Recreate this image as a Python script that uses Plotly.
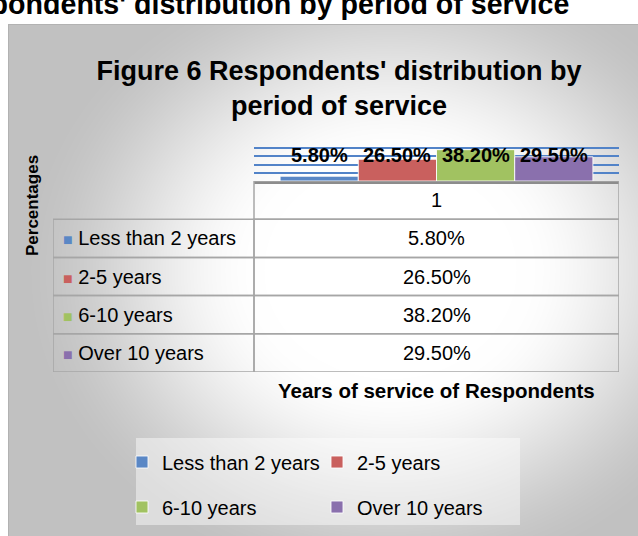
import base64
import struct
import zlib

import numpy as np
import plotly.graph_objects as go

# ---------------- data ----------------
categories = ["1"]
series_names = ["Less than 2 years", "2-5 years", "6-10 years", "Over 10 years"]
series_values = [5.8, 26.5, 38.2, 29.5]  # percent
series_colors = ["#5A87C5", "#C9605E", "#A1C261", "#8A70AD"]
title_text = "Figure 6 Respondents' distribution by<br>period of service"
doc_heading = "Figure 6 Respondents' distribution by period of service"
y_title = "Percentages"
x_title = "Years of service of Respondents"

W, H = 638, 536
FONT = "Liberation Sans, Arial, sans-serif"
GRID_GRAY = "#A6A6A6"


# ---------------- background (chart-area gradient) ----------------
def make_png(arr):
    h, w, _ = arr.shape
    raw = b"".join(b"\x00" + arr[i].tobytes() for i in range(h))

    def chunk(tag, data):
        return (struct.pack(">I", len(data)) + tag + data
                + struct.pack(">I", zlib.crc32(tag + data) & 0xFFFFFFFF))

    return (b"\x89PNG\r\n\x1a\n"
            + chunk(b"IHDR", struct.pack(">IIBBBBB", w, h, 8, 2, 0, 0, 0))
            + chunk(b"IDAT", zlib.compress(raw, 9))
            + chunk(b"IEND", b""))


yy, xx = np.mgrid[0:H, 0:W].astype(float)
cx, cy, rx, ry = 390.0, 270.0, 360.0, 310.0
t = np.sqrt(((xx - cx) / rx) ** 2 + ((yy - cy) / ry) ** 2)
s = np.clip((t - 0.35) / 0.7, 0, 1)
s = s * s * (3 - 2 * s)
gray = 255 - 62 * s
frame_x0, frame_y0 = 8, 24
gray = np.where((xx < frame_x0) | (yy < frame_y0), 255, gray)
gray = np.where(((xx == frame_x0) & (yy >= frame_y0)) | ((yy == frame_y0) & (xx >= frame_x0)), 178, gray)
img = np.repeat(gray.astype(np.uint8)[:, :, None], 3, axis=2)
bg_uri = "data:image/png;base64," + base64.b64encode(make_png(img)).decode()

# ---------------- figure ----------------
fig = go.Figure()

legend_ids = ["legend", "legend", "legend2", "legend2"]
for name, val, col, lg in zip(series_names, series_values, series_colors, legend_ids):
    fig.add_trace(go.Bar(
        x=categories, y=[val / 100.0], name=name,
        marker=dict(color=col, line=dict(color="rgba(255,255,255,0.85)", width=1)),
        legend=lg, hoverinfo="skip",
    ))

bargap = 0.143
n = len(series_values)
bw = (1 - bargap) / n
for i, val in enumerate(series_values):
    fig.add_annotation(
        x=-0.5 * (1 - bargap) + bw * (i + 0.5), y=0.317, xref="x", yref="y",
        text=f"<b>{val:.2f}%</b>", showarrow=False,
        font=dict(size=20, color="black", family=FONT), xanchor="center", yanchor="middle",
    )

# ---------------- data table (on its own axes: x2 = columns, y2 = rows) ----------------
col_w = [201, 365]          # relative column widths
x_split = col_w[0]
x_end = col_w[0] + col_w[1]
n_rows = len(series_names) + 1   # header + one row per series
shapes = []
line = dict(color=GRID_GRAY, width=1.5)
shapes.append(dict(type="rect", xref="x2", yref="y2", x0=x_split, x1=x_end, y0=0, y1=1, line=line))
for r in range(1, n_rows):
    shapes.append(dict(type="rect", xref="x2", yref="y2", x0=0, x1=x_split, y0=r, y1=r + 1, line=line))
    shapes.append(dict(type="rect", xref="x2", yref="y2", x0=x_split, x1=x_end, y0=r, y1=r + 1, line=line))

fig.add_annotation(xref="x2", yref="y2", x=(x_split + x_end) / 2, y=0.5, text=categories[0],
                   xanchor="center", yanchor="middle",
                   showarrow=False, font=dict(size=20, color="black", family=FONT))
for r, (nm, c, v) in enumerate(zip(series_names, series_colors, series_values), start=1):
    fig.add_annotation(xref="x2", yref="y2", x=8, y=r + 0.5, xanchor="left", yanchor="middle",
                       text=f"<span style='color:{c};font-size:16px'>■</span> {nm}",
                       showarrow=False, font=dict(size=20, color="black", family=FONT))
    fig.add_annotation(xref="x2", yref="y2", x=(x_split + x_end) / 2, y=r + 0.5,
                       xanchor="center", yanchor="middle",
                       text=f"{v:.2f}%", showarrow=False,
                       font=dict(size=20, color="black", family=FONT))

# legend background panel
shapes.append(dict(type="rect", xref="paper", yref="paper", x0=136 / W, x1=520 / W,
                   y0=1 - 525 / H, y1=1 - 438 / H, fillcolor="rgba(255,255,255,0.45)",
                   line=dict(width=0), layer="below"))

fig.update_layout(
    width=W, height=H,
    margin=dict(l=0, r=0, t=0, b=0),
    paper_bgcolor="white", plot_bgcolor="rgba(0,0,0,0)",
    barmode="group", bargap=bargap, bargroupgap=0,
    font=dict(family=FONT, color="black"),
    images=[dict(source=bg_uri, xref="paper", yref="paper", x=0, y=1, sizex=1, sizey=1,
                 sizing="stretch", xanchor="left", yanchor="top", layer="below")],
    xaxis=dict(domain=[254 / W, 619 / W], showticklabels=False, ticks="",
               showline=True, linecolor="#8C8C8C", linewidth=2.5, showgrid=False,
               range=[-0.5, 0.5]),
    yaxis=dict(domain=[1 - 181 / H, 1 - 140 / H], range=[0, 0.5], dtick=0.1,
               showticklabels=False, ticks="", gridcolor="#5283C8", gridwidth=1.5,
               zeroline=False, showline=False),
    xaxis2=dict(domain=[53 / W, 619 / W], range=[0, x_end], visible=False, anchor="y2"),
    yaxis2=dict(domain=[1 - 372 / H, 1 - 181 / H], range=[n_rows, 0], visible=False, anchor="x2"),
    title=dict(text=f"<b>{title_text}</b>", x=339 / W, xanchor="center",
               y=1 - 80 / H, yanchor="middle", yref="container",
               font=dict(size=27, color="black", family=FONT)),
    legend=dict(orientation="h", x=122 / W, xanchor="left", y=1 - 462 / H, yanchor="middle",
                bgcolor="rgba(0,0,0,0)", font=dict(size=20, family=FONT),
                entrywidth=150, entrywidthmode="pixels", traceorder="normal"),
    legend2=dict(orientation="h", x=122 / W, xanchor="left", y=1 - 507 / H, yanchor="middle",
                 bgcolor="rgba(0,0,0,0)", font=dict(size=20, family=FONT),
                 entrywidth=150, entrywidthmode="pixels", traceorder="normal"),
    shapes=shapes,
    showlegend=True,
)

fig.add_annotation(text=f"<b>{doc_heading}</b>", xref="paper", yref="paper",
                   x=571 / W, y=1 - 22 / H, xanchor="right", yanchor="bottom",
                   showarrow=False, font=dict(size=28.6, color="black", family=FONT))
fig.add_annotation(text=f"<b>{y_title}</b>", xref="paper", yref="paper",
                   x=33 / W, y=1 - 206 / H, xanchor="center", yanchor="middle",
                   textangle=-90, showarrow=False,
                   font=dict(size=17, color="black", family=FONT))
fig.add_annotation(text=f"<b>{x_title}</b>", xref="paper", yref="paper",
                   x=436 / W, y=1 - 390 / H, xanchor="center", yanchor="middle",
                   showarrow=False, font=dict(size=20.5, color="black", family=FONT))

fig.write_html("out.html", config={"displayModeBar": False},
               post_script="document.body.style.margin='0px';document.body.style.overflow='hidden';")
